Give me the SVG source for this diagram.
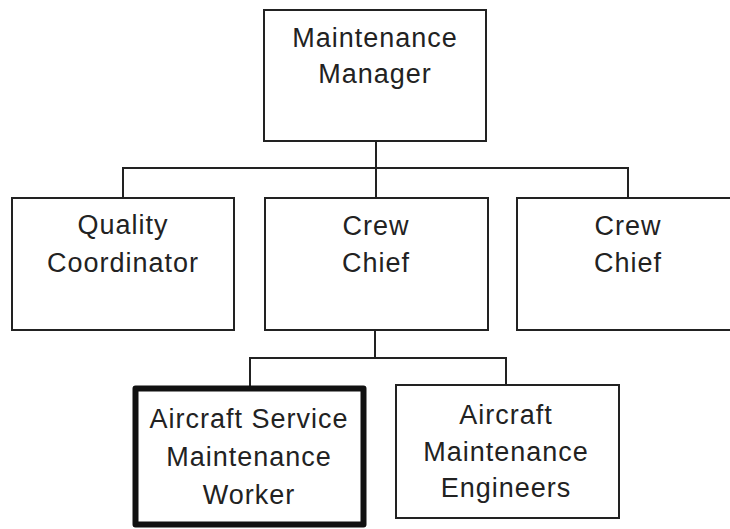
<svg xmlns="http://www.w3.org/2000/svg" width="730" height="529" viewBox="0 0 730 529">
<style>
.box{fill:#fff;stroke:#222;stroke-width:2}
.bold{fill:#fff;stroke:#111;stroke-width:6;stroke-linejoin:round}
.t{font-family:"Liberation Sans",Arial,sans-serif;font-size:27px;letter-spacing:1px;fill:#222;text-anchor:middle}
.c{fill:none;stroke:#222;stroke-width:2}
</style>
<rect width="730" height="529" fill="#fff"/>
<g id="connectors">
<path class="c" d="M376 141V198M123 198V168H628V198"/>
<path class="c" d="M375 330V358M250 388V358H506V385"/>
</g>
<g id="manager">
<rect class="box" x="264" y="10" width="222" height="131"/>
<text class="t" x="375" y="47">Maintenance</text>
<text class="t" x="375" y="83">Manager</text>
</g>
<g id="quality">
<rect class="box" x="12" y="198" width="222" height="132"/>
<text class="t" x="123" y="234">Quality</text>
<text class="t" x="123" y="272">Coordinator</text>
</g>
<g id="crew1">
<rect class="box" x="265" y="198" width="223" height="132"/>
<text class="t" x="376" y="235">Crew</text>
<text class="t" x="376" y="272">Chief</text>
</g>
<g id="crew2">
<rect class="box" x="517" y="198" width="222" height="132"/>
<text class="t" x="628" y="235">Crew</text>
<text class="t" x="628" y="272">Chief</text>
</g>
<g id="worker">
<rect class="bold" x="135.5" y="388.5" width="228" height="136"/>
<text class="t" x="249" y="428">Aircraft Service</text>
<text class="t" x="249" y="466">Maintenance</text>
<text class="t" x="249" y="504">Worker</text>
</g>
<g id="engineers">
<rect class="box" x="396" y="385" width="223" height="133"/>
<text class="t" x="506" y="424">Aircraft</text>
<text class="t" x="506" y="461">Maintenance</text>
<text class="t" x="506" y="497">Engineers</text>
</g>
</svg>
